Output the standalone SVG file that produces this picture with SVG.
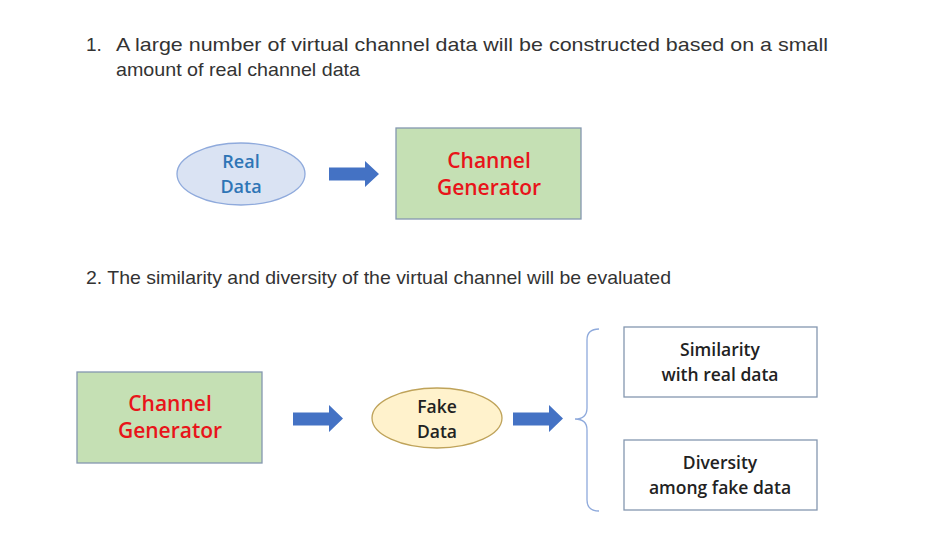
<svg xmlns="http://www.w3.org/2000/svg" width="941" height="537" viewBox="0 0 941 537">
<style>
.hdr{font-family:"Liberation Sans",Arial,sans-serif;font-size:19px;fill:#333333}
.lbl{font-family:"Open Sans","Noto Sans",sans-serif;font-weight:600;text-anchor:middle}
.red{fill:#e8141a;font-size:21px}
.blue{fill:#2e75b6;font-size:18px}
.blk{fill:#222222;font-size:17.5px}
.gen{fill:#c5e0b4;stroke:#8497b0;stroke-width:1.3}
.box{fill:#ffffff;stroke:#8497b0;stroke-width:1.3}
.arr{fill:#4472c4}
</style>
<rect width="941" height="537" fill="#ffffff"/>
<g id="header1">
<text class="hdr" x="86" y="51">1.</text>
<text class="hdr" x="116" y="51" textLength="712" lengthAdjust="spacingAndGlyphs">A large number of virtual channel data will be constructed based on a small</text>
<text class="hdr" x="116" y="76" textLength="244" lengthAdjust="spacingAndGlyphs">amount of real channel data</text>
</g>
<g id="header2">
<text class="hdr" x="86" y="284" textLength="585" lengthAdjust="spacingAndGlyphs">2. The similarity and diversity of the virtual channel will be evaluated</text>
</g>
<g id="real-data">
<ellipse cx="241" cy="174" rx="64" ry="31" fill="#dae3f3" stroke="#8faadc" stroke-width="1.3"/>
<text class="lbl blue" x="241" y="168">Real</text>
<text class="lbl blue" x="241" y="193">Data</text>
</g>
<g id="channel-generator-1">
<rect class="gen" x="396" y="128" width="185" height="91"/>
<text class="lbl red" x="489" y="168">Channel</text>
<text class="lbl red" x="489" y="195">Generator</text>
</g>
<g id="channel-generator-2">
<rect class="gen" x="77" y="372" width="185" height="91"/>
<text class="lbl red" x="170" y="411">Channel</text>
<text class="lbl red" x="170" y="438">Generator</text>
</g>
<g id="fake-data">
<ellipse cx="437" cy="418" rx="65" ry="30" fill="#fff2cc" stroke="#bfa35a" stroke-width="1.3"/>
<text class="lbl blk" x="437" y="413">Fake</text>
<text class="lbl blk" x="437" y="438">Data</text>
</g>
<g id="similarity">
<rect class="box" x="624" y="327" width="193" height="70"/>
<text class="lbl blk" x="720" y="356">Similarity</text>
<text class="lbl blk" x="720" y="381">with real data</text>
</g>
<g id="diversity">
<rect class="box" x="624" y="440" width="193" height="70"/>
<text class="lbl blk" x="720" y="469">Diversity</text>
<text class="lbl blk" x="720" y="494">among fake data</text>
</g>
<g id="connectors">
<polygon class="arr" points="329,167.5 365,167.5 365,161 379,174 365,187 365,180.5 329,180.5"/>
<polygon class="arr" points="293,412.5 329,412.5 329,405 343,418.5 329,432 329,425.5 293,425.5"/>
<polygon class="arr" points="513,412.5 549,412.5 549,405 563,418.5 549,432 549,425.5 513,425.5"/>
<path d="M599,329 Q587,329 587,340 L587,408 Q587,419 575,419 Q587,419 587,430 L587,500 Q587,511 599,511" fill="none" stroke="#8faadc" stroke-width="1.3"/>
</g>
</svg>
